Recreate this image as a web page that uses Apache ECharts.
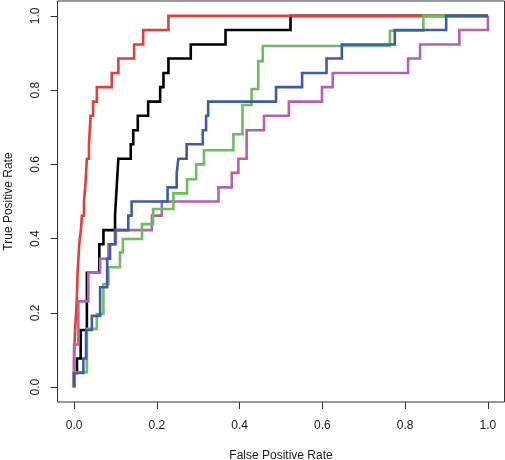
<!DOCTYPE html>
<html>
<head>
<meta charset="utf-8">
<script src="https://cdn.jsdelivr.net/npm/echarts@6/dist/echarts.min.js"></script>
<style>html,body{margin:0;padding:0;background:#fff;}#c{width:505px;height:460px;}</style>
</head>
<body>
<div id="c"></div>
<script>
const tickValues = [0, 0.2, 0.4, 0.6, 0.8, 1.0];
const xTitle = 'False Positive Rate';
const yTitle = 'True Positive Rate';

const blackFpr = [0,0,0.007,0.007,0.016,0.016,0.031,0.031,0.061,0.061,0.071,0.071,0.099,0.099,0.103,0.103,0.107,0.107,0.137,0.137,0.143,0.143,0.154,0.154,0.179,0.179,0.208,0.208,0.216,0.216,0.228,0.228,0.282,0.282,0.366,0.366,0.523,0.523,1];
const blackTpr = [0,0.038,0.038,0.077,0.077,0.154,0.154,0.308,0.308,0.385,0.385,0.423,0.423,0.462,0.462,0.538,0.538,0.615,0.615,0.654,0.654,0.692,0.692,0.731,0.731,0.769,0.769,0.808,0.808,0.846,0.846,0.885,0.885,0.923,0.923,0.962,0.962,1,1];

const redFpr = [0,0,0.0024,0.0024,0.0065,0.0065,0.0085,0.0085,0.0125,0.0125,0.0165,0.0165,0.019,0.019,0.024,0.024,0.027,0.027,0.031,0.031,0.036,0.036,0.040,0.040,0.046,0.046,0.055,0.055,0.091,0.091,0.107,0.107,0.145,0.145,0.167,0.167,0.228,0.228,1];
const redTpr = [0,0.077,0.077,0.154,0.154,0.231,0.231,0.308,0.308,0.385,0.385,0.423,0.423,0.462,0.462,0.5,0.5,0.538,0.538,0.615,0.615,0.654,0.654,0.731,0.731,0.769,0.769,0.808,0.808,0.846,0.846,0.885,0.885,0.923,0.923,0.962,0.962,1,1];

const magentaFpr = [0,0,0.0104,0.0104,0.0345,0.0345,0.063,0.063,0.083,0.083,0.101,0.101,0.188,0.188,0.212,0.212,0.349,0.349,0.381,0.381,0.397,0.397,0.417,0.417,0.459,0.459,0.519,0.519,0.599,0.599,0.625,0.625,0.807,0.807,0.836,0.836,0.931,0.931,1,1];
const magentaTpr = [0,0.115,0.115,0.231,0.231,0.308,0.308,0.346,0.346,0.385,0.385,0.423,0.423,0.462,0.462,0.5,0.5,0.538,0.538,0.577,0.577,0.615,0.615,0.692,0.692,0.731,0.731,0.769,0.769,0.808,0.808,0.846,0.846,0.885,0.885,0.923,0.923,0.962,0.962,1];

const greenFpr = [0,0,0.031,0.031,0.055,0.055,0.071,0.071,0.083,0.083,0.111,0.111,0.118,0.118,0.164,0.164,0.191,0.191,0.24,0.24,0.273,0.273,0.295,0.295,0.314,0.314,0.385,0.385,0.407,0.407,0.429,0.429,0.445,0.445,0.456,0.456,0.763,0.763,0.844,0.844,1];
const greenTpr = [0,0.04,0.04,0.157,0.157,0.197,0.197,0.278,0.278,0.323,0.323,0.363,0.363,0.399,0.399,0.439,0.439,0.48,0.48,0.522,0.522,0.56,0.56,0.6,0.6,0.638,0.638,0.681,0.681,0.76,0.76,0.803,0.803,0.878,0.878,0.919,0.919,0.96,0.96,1,1];

const blueFpr = [0,0,0.0225,0.0225,0.029,0.029,0.043,0.043,0.063,0.063,0.08,0.08,0.087,0.087,0.099,0.099,0.131,0.131,0.139,0.139,0.226,0.226,0.248,0.248,0.252,0.252,0.272,0.272,0.311,0.311,0.319,0.319,0.324,0.324,0.488,0.488,0.551,0.551,0.61,0.61,0.647,0.647,0.775,0.775,0.899,0.899,1];
const blueTpr = [0,0.038,0.038,0.077,0.077,0.154,0.154,0.192,0.192,0.269,0.269,0.346,0.346,0.385,0.385,0.423,0.423,0.462,0.462,0.5,0.5,0.538,0.538,0.577,0.577,0.615,0.615,0.654,0.654,0.692,0.692,0.731,0.731,0.769,0.769,0.808,0.808,0.846,0.846,0.885,0.885,0.923,0.923,0.962,0.962,1,1];

function zip(a, b) { return a.map((v, i) => [v, b[i]]); }

const curves = [
  { name: 'black', fpr: blackFpr, tpr: blackTpr, color: '#000000' },
  { name: 'red', fpr: redFpr, tpr: redTpr, color: '#E33E37' },
  { name: 'magenta', fpr: magentaFpr, tpr: magentaTpr, color: '#B462B0' },
  { name: 'green', fpr: greenFpr, tpr: greenTpr, color: '#6CBD5E' },
  { name: 'blue', fpr: blueFpr, tpr: blueTpr, color: '#3D5BA6' }
];

const font = "'Liberation Sans', Arial, Helvetica, sans-serif";
const chart = echarts.init(document.getElementById('c'), null, { renderer: 'canvas' });

function axisCommon() {
  return {
    type: 'value',
    min: -0.04,
    max: 1.04,
    axisLine: { show: false, onZero: false },
    splitLine: { show: false },
    axisTick: { show: true, inside: false, length: 7, customValues: tickValues, lineStyle: { color: '#333', width: 1 } },
    axisLabel: { customValues: tickValues, formatter: v => v.toFixed(1), color: '#1a1a1a', fontSize: 12, fontFamily: font },
    nameLocation: 'middle',
    nameTextStyle: { color: '#1a1a1a', fontSize: 12, fontFamily: font }
  };
}

const xAxis = axisCommon();
xAxis.name = xTitle;
xAxis.nameGap = 48;
xAxis.axisLabel.margin = 18;

const yAxis = axisCommon();
yAxis.name = yTitle;
yAxis.nameGap = 43;
yAxis.axisLabel.rotate = 90;
yAxis.axisLabel.margin = 16;

chart.setOption({
  animation: false,
  backgroundColor: '#ffffff',
  grid: { left: 57.5, right: 0.5, top: 1, bottom: 58, outerBoundsMode: 'none', containLabel: false, show: true, borderColor: '#333', borderWidth: 1, backgroundColor: 'transparent' },
  xAxis: xAxis,
  yAxis: yAxis,
  series: curves.map(c => ({
    name: c.name,
    type: 'line',
    data: zip(c.fpr, c.tpr),
    showSymbol: false,
    symbol: 'none',
    clip: false,
    lineStyle: { color: c.color, width: 2.6, join: 'miter', cap: 'butt' },
    emphasis: { disabled: true }
  }))
});
</script>
</body>
</html>
